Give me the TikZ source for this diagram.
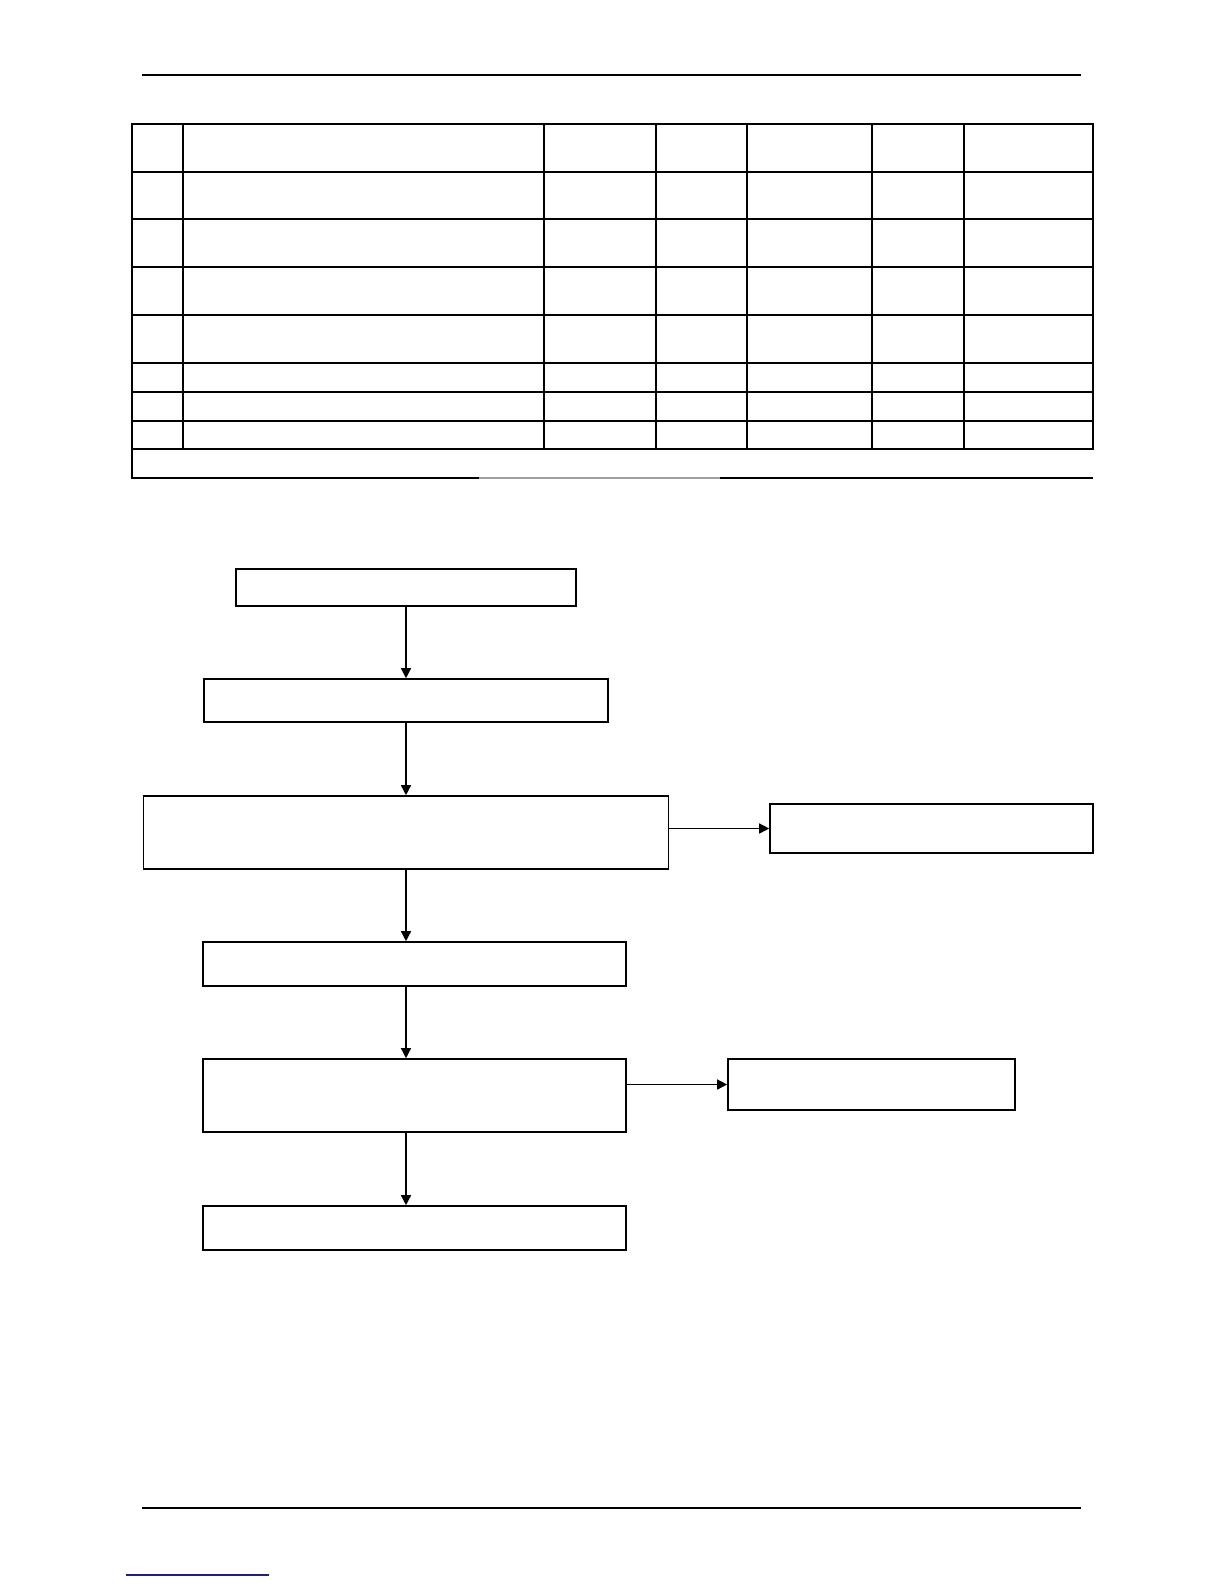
\documentclass[tikz,border=0pt]{standalone}
\usepackage{xcolor}
\usepackage{tikz}
\usetikzlibrary{positioning,arrows.meta,calc}
\definecolor{ink}{HTML}{000000}
\definecolor{rulegray}{HTML}{A0A0A0}
\definecolor{linkblue}{HTML}{1C1C8A}
\tikzset{
  stepbox/.style={
    rectangle, draw=ink, fill=white,
    line width=0.8pt, inner sep=0pt
  },
  flow/.style={
    -{Triangle[length=5pt,width=5pt]},
    line width=0.7pt, draw=ink
  },
  gridline/.style={line width=1pt, draw=ink, line cap=rect},
  pagerule/.style={line width=0.7pt, draw=ink},
}

\begin{document}
\begin{tikzpicture}[x=0.5pt,y=-0.5pt]
  \useasboundingbox (0,0) rectangle (1224,1584);
  \draw[pagerule] (142,75) -- (1081,75);
  \draw[pagerule] (142,1508) -- (1081,1508);
  \draw[line width=1pt, linkblue] (126,1575) -- (269,1575);
  % table
  \foreach \y in {124,172,219,267,315,363,392,421,449}
    \draw[gridline] (132,\y) -- (1093,\y);
  \foreach \x in {132,183,544,656,747,872,964,1093}
    \draw[gridline] (\x,124) -- (\x,449);
  \draw[gridline] (132,449) -- (132,478) -- (479,478);
  \draw[line width=1pt, rulegray] (479,478) -- (720,478);
  \draw[line width=0.6pt, ink] (720,478) -- (1093,478);
  % flow chart
  \node[stepbox, minimum width=170pt, minimum height=18.5pt] (s1) at (406,587.5) {};
  \node[stepbox, minimum width=202pt, minimum height=21.5pt] (s2) at (406,700.5) {};
  \node[stepbox, minimum width=262.5pt, minimum height=36.5pt] (s3) at (406,832.5) {};
  \node[stepbox, minimum width=161.5pt, minimum height=24.5pt] (side1) at (931.5,828.5) {};
  \node[stepbox, minimum width=211.5pt, minimum height=22pt] (s4) at (414.5,964) {};
  \node[stepbox, minimum width=211.5pt, minimum height=36.5pt] (s5) at (414.5,1095.5) {};
  \node[stepbox, minimum width=143.5pt, minimum height=25.5pt] (side2) at (871.5,1084.5) {};
  \node[stepbox, minimum width=211.5pt, minimum height=22pt] (s6) at (414.5,1228) {};
  \draw[flow] (s1.south) -- (s2.north);
  \draw[flow] (s2.south) -- (s3.north);
  \draw[flow] (s3.south) -- (s3.south |- s4.north);
  \draw[flow] (s3.south |- s4.south) -- (s3.south |- s5.north);
  \draw[flow] (s3.south |- s5.south) -- (s3.south |- s6.north);
  \draw[flow] (s3.east |- side1) -- (side1.west);
  \draw[flow] (s5.east |- side2) -- (side2.west);
\end{tikzpicture}
\end{document}
